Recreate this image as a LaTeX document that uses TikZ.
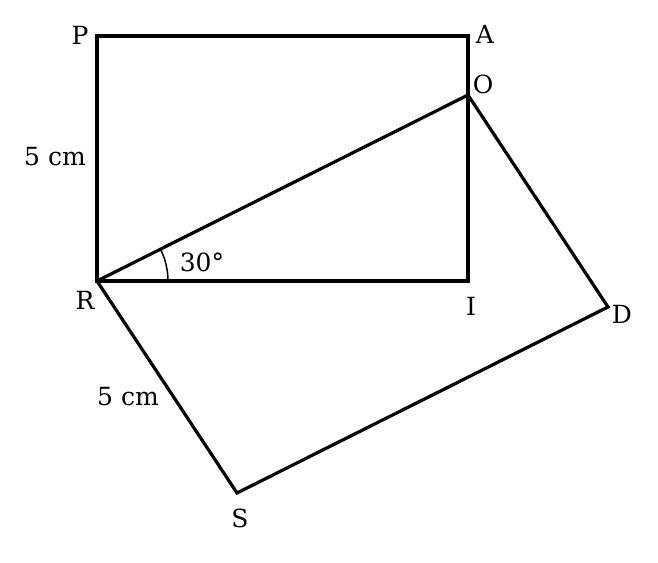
\documentclass[tikz,border=0pt]{standalone}
\usepackage{fontspec}
\setmainfont{DejaVu Serif}
\usetikzlibrary{calc}
\begin{document}
\begin{tikzpicture}[x=1pt,y=-1pt,
  edge/.style={line width=3.2pt,line join=miter,line cap=round},
  lbl/.style={font=\fontsize{25}{28}\selectfont,inner sep=0pt}]
\useasboundingbox (0,0) rectangle (658,562);
\coordinate (P) at (97,36);
\coordinate (A) at (468,36);
\coordinate (O) at (468,95);
\coordinate (R) at (97,281);
\coordinate (I) at (468,281);
\coordinate (D) at (608,307);
\coordinate (S) at (237,493);
\draw[edge] (R) -- (P) -- (A) -- (O) -- (I) -- cycle;
\draw[edge] (R) -- (O) -- (D) -- (S) -- cycle;
\draw[line width=1.5pt] ($(R)+(71,0)$) arc[start angle=0,end angle=-26.6,radius=71];
\node[lbl] (lP) at (80,35) {P};
\node[lbl] (lA) at (485,34) {A};
\node[lbl] (lO) at (483,84) {O};
\node[lbl] (lR) at (85,300) {R};
\node[lbl] (lI) at (471,306) {I};
\node[lbl] (lD) at (622,314) {D};
\node[lbl] (lS) at (240,518) {S};
\node[lbl] (l1) at (55,157) {5 cm};
\node[lbl] (l2) at (128,397) {5 cm};
\node[lbl] (l3) at (202,262) {30°};
\end{tikzpicture}
\end{document}
